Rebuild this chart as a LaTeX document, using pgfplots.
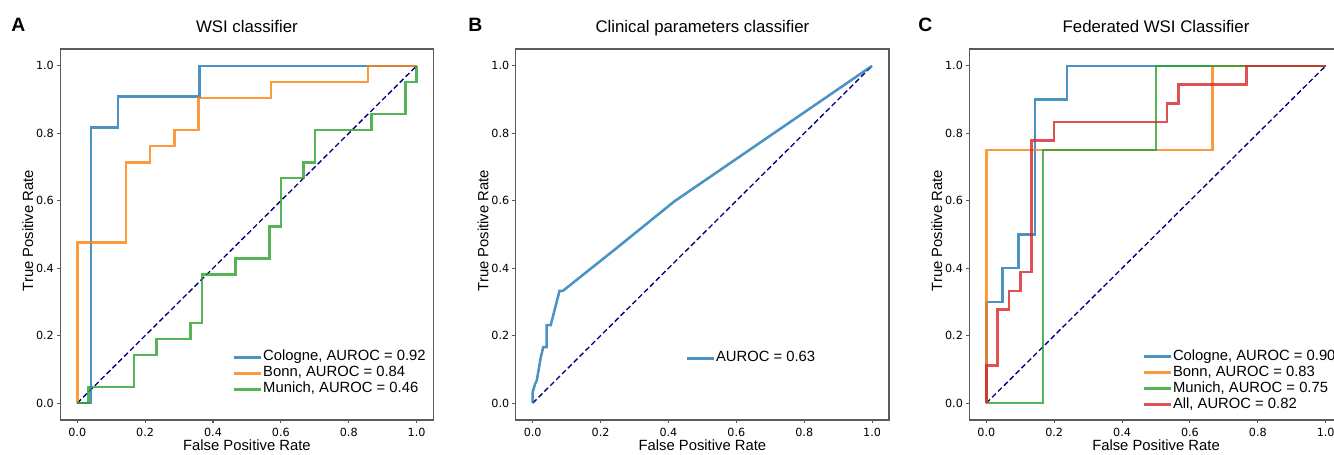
\documentclass[border=0pt]{standalone}
\usepackage{pgfplots}
\pgfplotsset{compat=1.18}
\usepackage{fontspec}
\setmainfont{Liberation Sans}
\newfontfamily\tickfont{DejaVu Sans}
\definecolor{tabblue}{HTML}{1F77B4}
\definecolor{taborange}{HTML}{FF7F0E}
\definecolor{tabgreen}{HTML}{2CA02C}
\definecolor{tabred}{HTML}{D62728}
\definecolor{framegray}{HTML}{5A5A5A}
\definecolor{navy}{RGB}{0,0,128}
\pgfplotsset{
  roc/.style={
    scale only axis, width=280pt, height=278.25pt,
    xmin=-0.05, xmax=1.05, ymin=-0.05, ymax=1.05,
    xtick={0,0.2,0.4,0.6,0.8,1}, ytick={0,0.2,0.4,0.6,0.8,1},
    tick align=outside, major tick length=2.5pt,
    xtick pos=bottom, ytick pos=left,
    axis line style={framegray, line width=0.9pt},
    tick style={framegray, line width=0.8pt},
    /pgf/number format/assume math mode=true,
    /pgf/number format/fixed, /pgf/number format/fixed zerofill, /pgf/number format/precision=1,
    tick label style={font=\tickfont\fontsize{8.4}{9}\selectfont},
    yticklabel style={xshift=1.2pt},
    xlabel={False Positive Rate}, ylabel={True Positive Rate},
    xlabel style={at={(axis description cs:0.5,-0.082)}, anchor=base, font=\fontsize{11.1}{12}\selectfont},
    ylabel style={at={(axis description cs:-0.073,0.51)}, anchor=base, font=\fontsize{11.1}{12}\selectfont},
    title style={at={(axis description cs:0.5,1.024)}, anchor=base, font=\fontsize{12.6}{14}\selectfont},
    legend style={draw=none, fill=none, inner sep=0pt, outer sep=0pt, row sep=0pt,
      font=\fontsize{11.1}{12}\selectfont,
      nodes={inner sep=0.5pt, text height=8.2pt, text depth=2.8pt}},
    legend cell align=left,
    legend image code/.code={\draw[#1, line width=2.2pt] (0pt,0pt) -- (20pt,0pt);},
    every axis plot/.append style={line width=1.9pt, draw opacity=0.8},
  },
  diag/.style={navy, dashed, line width=1pt, draw opacity=1, dash pattern=on 4pt off 2.2pt, forget plot},
}
\begin{document}
\begin{tikzpicture}
\useasboundingbox (0,0) rectangle (1000.5pt,340.5pt);
\clip (0,0) rectangle (1000.5pt,340.5pt);

\node[anchor=base west, inner sep=0pt, font=\bfseries\fontsize{14.5}{16}\selectfont] at (8.25pt,316.9pt) {A};
\node[anchor=base west, inner sep=0pt, font=\bfseries\fontsize{14.5}{16}\selectfont] at (351pt,316.9pt) {B};
\node[anchor=base west, inner sep=0pt, font=\bfseries\fontsize{14.5}{16}\selectfont] at (688.5pt,316.9pt) {C};

% Panel A
\begin{axis}[roc, at={(45.2pt,25.5pt)}, anchor=south west, title={WSI classifier},
  legend style={at={(axis description cs:0.4626,0.061)}, anchor=south west}]
\addplot[diag] coordinates {(0,0) (1,1)};
\addplot[tabblue] coordinates {(0,0) (0.04,0) (0.04,0.818) (0.12,0.818) (0.12,0.909) (0.36,0.909) (0.36,1) (1,1)};
\addlegendentry{Cologne, AUROC = 0.92}
\addplot[taborange] coordinates {(0,0) (0,0.476) (0.143,0.476) (0.143,0.714) (0.214,0.714) (0.214,0.762) (0.286,0.762) (0.286,0.810) (0.357,0.810) (0.357,0.905) (0.571,0.905) (0.571,0.952) (0.857,0.952) (0.857,1) (1,1)};
\addlegendentry{Bonn, AUROC = 0.84}
\addplot[tabgreen] coordinates {(0,0) (0.033,0) (0.033,0.048) (0.167,0.048) (0.167,0.143) (0.233,0.143) (0.233,0.190) (0.333,0.190) (0.333,0.238) (0.367,0.238) (0.367,0.381) (0.467,0.381) (0.467,0.429) (0.567,0.429) (0.567,0.524) (0.6,0.524) (0.6,0.667) (0.667,0.667) (0.667,0.714) (0.7,0.714) (0.7,0.810) (0.867,0.810) (0.867,0.857) (0.967,0.857) (0.967,0.952) (1,0.952) (1,1)};
\addlegendentry{Munich, AUROC = 0.46}
\end{axis}

% Panel B
\begin{axis}[roc, at={(386.8pt,25.5pt)}, anchor=south west, title={Clinical parameters classifier},
  legend style={at={(axis description cs:0.4554,0.145)}, anchor=south west}]
\addplot[diag] coordinates {(0,0) (1,1)};
\addplot[tabblue] coordinates {(0,0) (0,0.033) (0.007,0.057) (0.012,0.067) (0.024,0.137) (0.031,0.166) (0.041,0.166) (0.041,0.231) (0.053,0.231) (0.079,0.333) (0.089,0.333) (0.25,0.462) (0.417,0.598) (1,1)};
\addlegendentry{AUROC = 0.63}
\end{axis}

% Panel C
\begin{axis}[roc, at={(727pt,25.5pt)}, anchor=south west, title={Federated WSI Classifier},
  legend style={at={(axis description cs:0.4645,0.0197)}, anchor=south west}]
\addplot[diag] coordinates {(0,0) (1,1)};
\addplot[tabblue] coordinates {(0,0) (0,0.3) (0.048,0.3) (0.048,0.4) (0.095,0.4) (0.095,0.5) (0.143,0.5) (0.143,0.9) (0.238,0.9) (0.238,1) (1,1)};
\addlegendentry{Cologne, AUROC = 0.90}
\addplot[taborange] coordinates {(0,0) (0,0.75) (0.667,0.75) (0.667,1) (1,1)};
\addlegendentry{Bonn, AUROC = 0.83}
\addplot[tabgreen] coordinates {(0,0) (0.167,0) (0.167,0.75) (0.5,0.75) (0.5,1) (1,1)};
\addlegendentry{Munich, AUROC = 0.75}
\addplot[tabred] coordinates {(0,0) (0,0.111) (0.033,0.111) (0.033,0.278) (0.067,0.278) (0.067,0.333) (0.1,0.333) (0.1,0.389) (0.133,0.389) (0.133,0.778) (0.2,0.778) (0.2,0.833) (0.533,0.833) (0.533,0.889) (0.567,0.889) (0.567,0.944) (0.767,0.944) (0.767,1) (1,1)};
\addlegendentry{All, AUROC = 0.82}
\end{axis}
\end{tikzpicture}
\end{document}
